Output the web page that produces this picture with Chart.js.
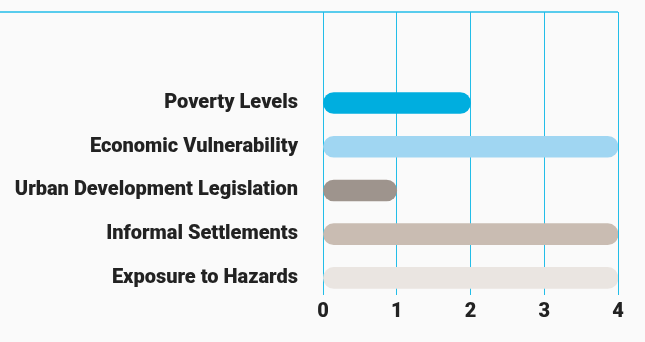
<!DOCTYPE html>
<html>
<head>
<meta charset="utf-8">
<script src="https://cdn.jsdelivr.net/npm/chart.js@4/dist/chart.umd.min.js"></script>
<style>
    html, body { margin: 0; padding: 0; background: #fafafa; }
    #wrap { width: 645px; height: 342px; position: relative; }
</style>
</head>
<body>
<div id="wrap"><canvas id="riskChart"></canvas></div>
<script>
// categories from top to bottom
const categories = [
    'Poverty Levels',
    'Economic Vulnerability',
    'Urban Development Legislation',
    'Informal Settlements',
    'Exposure to Hazards'
];
const scores = [2, 4, 1, 4, 4];
const barColors = ['#00aedf', '#a0d6f2', '#9e948d', '#c9bcb2', '#eae5e1'];
const xTicks = [0, 1, 2, 3, 4];

const gridColor = '#22bde8';

// top rule running across the whole width
const topRule = {
    id: 'topRule',
    afterDraw(chart) {
        const { ctx, chartArea } = chart;
        ctx.save();
        ctx.strokeStyle = gridColor;
        ctx.lineWidth = 1.5;
        ctx.beginPath();
        ctx.moveTo(0, chartArea.top);
        ctx.lineTo(chartArea.right, chartArea.top);
        ctx.stroke();
        ctx.restore();
    }
};

const ctx = document.getElementById('riskChart').getContext('2d');
new Chart(ctx, {
    type: 'bar',
    data: {
        datasets: [{
            data: categories.map((c, i) => ({ x: scores[i], y: i })),
            backgroundColor: barColors,
            barThickness: 21,
            borderRadius: 11,
            borderSkipped: false
        }]
    },
    options: {
        indexAxis: 'y',
        responsive: true,
        maintainAspectRatio: false,
        animation: false,
        layout: { padding: { top: 12, right: 27, bottom: 13, left: 0 } },
        plugins: {
            legend: { display: false },
            tooltip: { enabled: false }
        },
        scales: {
            x: {
                type: 'linear',
                position: 'bottom',
                min: 0,
                max: 4,
                afterBuildTicks: (scale) => { scale.ticks = xTicks.map(v => ({ value: v })); },
                grid: { color: gridColor, lineWidth: 1, drawTicks: false },
                border: { display: false },
                ticks: {
                    padding: 5,
                    color: '#222',
                    font: { family: 'Roboto', size: 20, weight: 900 }
                }
            },
            y: {
                type: 'linear',
                reverse: true,
                offset: false,
                min: -2.08,
                max: 4.39,
                afterBuildTicks: (scale) => { scale.ticks = categories.map((c, i) => ({ value: i })); },
                afterFit: (scale) => {
                    scale.width = 323;
                    scale.paddingTop = 0;
                    scale.paddingBottom = 0;
                },
                grid: { display: false, drawTicks: false },
                border: { display: false },
                ticks: {
                    padding: 25,
                    color: '#222',
                    font: { family: 'Roboto', size: 20, weight: 900 },
                    callback: (value) => categories[value]
                }
            }
        }
    },
    plugins: [topRule]
});
</script>
</body>
</html>
